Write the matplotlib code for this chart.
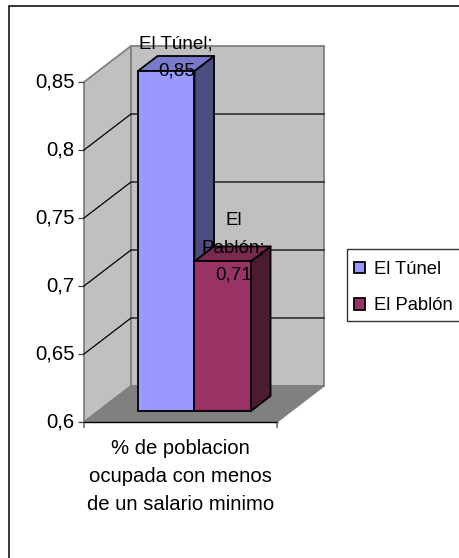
import matplotlib
matplotlib.use('Agg')
import matplotlib.pyplot as plt
from matplotlib.patches import Polygon, Rectangle
from matplotlib.transforms import Affine2D

plt.rcParams['font.family'] = ['Liberation Sans', 'DejaVu Sans']

categoria = '% de poblacion\nocupada con menos\nde un salario minimo'
series = ['El Túnel', 'El Pablón']
valores = [0.85, 0.71]
colores = ['#9999FF', '#993366']
colores_lado = ['#4D4D80', '#4D1A33']
colores_tope = ['#7A7ACC', '#7A2952']
etiquetas = ['El Túnel;\n0,85', 'El\nPablón;\n0,71']
yticks = [0.6, 0.65, 0.7, 0.75, 0.8, 0.85]
yticklabels = ['0,6', '0,65', '0,7', '0,75', '0,8', '0,85']

W, H = 459, 558
fig = plt.figure(figsize=(W / 100, H / 100), dpi=100)

# marco del grafico (solo se ven arriba e izquierda)
fig.add_artist(Rectangle((8.5 / W, -0.02), 1, 1 - 6 / H + 0.02, transform=fig.transFigure,
                         fc='white', ec='black', lw=1.1, zorder=-1))

# el plano frontal del eje: x 84-277 px, y 422-82 px
ax = fig.add_axes([84 / W, 1 - 422 / H, 193 / W, 340 / H])
ax.set_xlim(0, 1)
ax.set_ylim(0.6, 0.85)
ax.patch.set_visible(False)
for s in ax.spines.values():
    s.set_visible(False)

# profundidad en pixeles, pasada a unidades de datos
DX = 47 / 193
DY = 36 / 340 * 0.25


def proy(x, v, d):
    return (x + d * DX, v + d * DY)


def poly(puntos, **kw):
    ax.add_patch(Polygon(puntos, closed=True, clip_on=False, **kw))


vmin, vmax = 0.6, 0.85
vtop = vmax

# paredes y piso
poly([proy(0, vmin, 0), proy(0, vtop, 0), proy(0, vtop, 1), proy(0, vmin, 1)],
     fc='#C0C0C0', ec='#808080', lw=1.3, zorder=1)
poly([proy(0, vmin, 1), proy(0, vtop, 1), proy(1, vtop, 1), proy(1, vmin, 1)],
     fc='#C0C0C0', ec='#808080', lw=1.3, zorder=1)
poly([proy(0, vmin, 0), proy(1, vmin, 0), proy(1, vmin, 1), proy(0, vmin, 1)],
     fc='#808080', ec='#808080', lw=1, zorder=1)

# lineas de division
for t in yticks[1:-1]:
    ax.plot(*zip(proy(0, t, 0), proy(0, t, 1), proy(1, t, 1)), color='black', lw=0.9,
            solid_joinstyle='miter', clip_on=False, zorder=2)

# barras
d0, d1 = 11 / 36, 26 / 36
ancho = 56.5 / 193
x0 = 39.6 / 193
for i in range(len(valores)):
    xi = x0 + i * ancho
    v = valores[i]
    fx, fb = proy(xi, vmin, d0)
    _, ft = proy(xi, v, d0)
    poly([proy(xi + ancho, vmin, d0), proy(xi + ancho, vmin, d1),
          proy(xi + ancho, v, d1), proy(xi + ancho, v, d0)],
         fc=colores_lado[i], ec='black', lw=1.3, joinstyle='round', zorder=3 + i)
    poly([proy(xi, v, d0), proy(xi, v, d1), proy(xi + ancho, v, d1), proy(xi + ancho, v, d0)],
         fc=colores_tope[i], ec='black', lw=1.3, joinstyle='round', zorder=3 + i)
    ax.bar(fx, ft - fb, width=ancho, bottom=fb, align='edge', color=colores[i],
           edgecolor='black', lw=1.3, clip_on=False, zorder=3 + i, label=series[i])

# etiquetas de datos
for i in range(len(valores)):
    xi = x0 + (i + 0.5) * ancho
    px, py = proy(xi, valores[i], d0)
    ax.annotate(etiquetas[i], (px, py), xytext=(10 if i == 0 else 11, -9 if i == 0 else -22),
                textcoords='offset pixels', ha='center', va='bottom', fontsize=13.6, color='black',
                linespacing=1.8, zorder=10, annotation_clip=False)

# ejes
ax.set_yticks(yticks)
ax.set_yticklabels(yticklabels, fontsize=14.6)
ax.set_xticks([0.5])
ax.set_xticklabels([categoria], fontsize=14.6, linespacing=1.62)
ax.tick_params(axis='y', length=4, width=0.9, color='#404040', pad=3)
ax.tick_params(axis='x', length=0, pad=12)
for lab in ax.get_yticklabels():
    lab.set_transform(lab.get_transform() + Affine2D().translate(0, 2))
ax.plot([0, 1], [vmin, vmin], color='black', lw=1, clip_on=False, zorder=2)
for x in [0, 1]:
    ax.annotate('', (x, vmin), xytext=(0, -4), textcoords='offset points', annotation_clip=False,
                arrowprops=dict(arrowstyle='-', color='#404040', lw=0.9, shrinkA=0, shrinkB=0))

# leyenda: el recuadro va aparte para dar mas aire arriba y abajo
fig.add_artist(Rectangle((347 / W, 1 - 321 / H), 120 / W, 72 / H, transform=fig.transFigure,
                         fc='white', ec='#333333', lw=1, zorder=-0.5))
ax.legend(loc='upper left', bbox_to_anchor=(347 / W, 1 - 254 / H), bbox_transform=fig.transFigure,
          fontsize=13.2, frameon=False, handlelength=0.6, handleheight=0.6, handletextpad=0.49,
          labelspacing=1.05, borderpad=0.38, borderaxespad=0)

fig.savefig('out.png', dpi=100)
